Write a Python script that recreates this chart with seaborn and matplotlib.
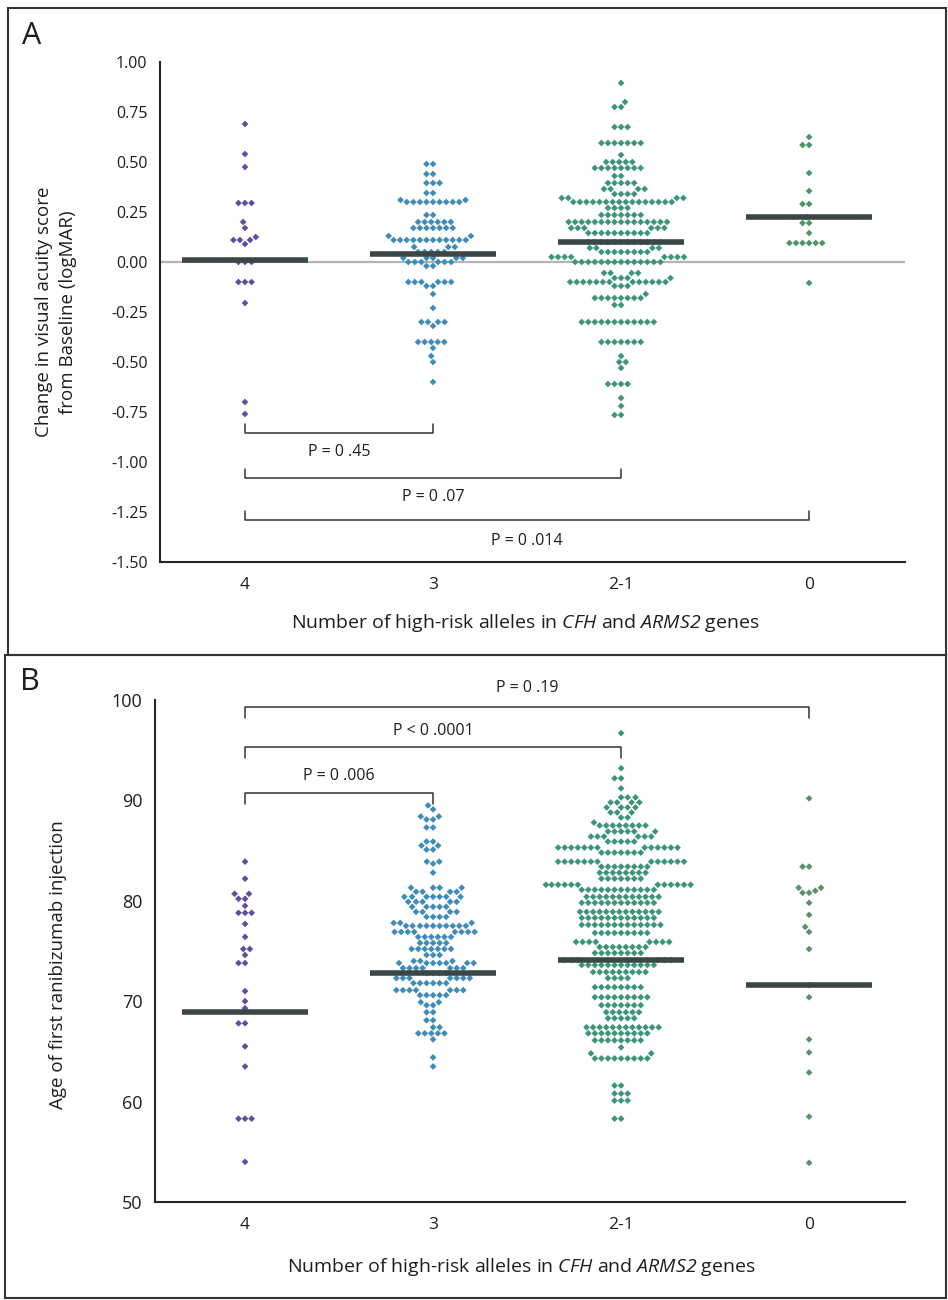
import numpy as np
import pandas as pd
import matplotlib
matplotlib.use("Agg")
import matplotlib.pyplot as plt
import seaborn as sns
from matplotlib.patches import Rectangle
from matplotlib.markers import MarkerStyle
from matplotlib.transforms import Affine2D

# ---------------- data ----------------
groups = ["4", "3", "2-1", "0"]

# Panel A: change in visual acuity (logMAR), value levels and counts per level
a4_vals = [0.69, 0.54, 0.475, 0.295, 0.20, 0.17, 0.125, 0.11, 0.09, 0.0, -0.10, -0.205, -0.70, -0.76]
a4_cnts = [1, 1, 1, 3, 1, 1, 1, 3, 1, 3, 3, 1, 1, 1]
a3_vals = [0.49, 0.44, 0.395, 0.345, 0.31, 0.30, 0.235, 0.20, 0.17, 0.13, 0.11, 0.075, 0.05, 0.02, 0.0,
           -0.02, -0.10, -0.12, -0.16, -0.23, -0.30, -0.32, -0.40, -0.43, -0.47, -0.50, -0.60]
a3_cnts = [2, 2, 3, 2, 2, 9, 2, 6, 7, 2, 12, 3, 5, 5, 6,
           2, 6, 2, 1, 1, 4, 1, 5, 1, 1, 1, 1]
a21_vals = [0.895, 0.80, 0.775, 0.675, 0.595, 0.535, 0.50, 0.47, 0.43, 0.395, 0.365, 0.34, 0.32, 0.30,
            0.27, 0.235, 0.20, 0.17, 0.145, 0.10, 0.07, 0.05, 0.025, 0.0, -0.055, -0.08, -0.10, -0.12,
            -0.16, -0.18, -0.215, -0.30, -0.40, -0.47, -0.50, -0.53, -0.61, -0.68, -0.72, -0.765]
a21_cnts = [1, 1, 2, 3, 7, 1, 5, 8, 2, 5, 4, 4, 4, 16,
            4, 7, 16, 6, 10, 12, 4, 8, 8, 14, 4, 4, 13, 3,
            1, 8, 2, 12, 7, 1, 2, 1, 4, 1, 1, 2]
a0_vals = [0.625, 0.585, 0.445, 0.355, 0.29, 0.225, 0.195, 0.145, 0.095, -0.105]
a0_cnts = [1, 2, 1, 1, 2, 1, 2, 1, 6, 1]
medians_a = [0.01, 0.04, 0.10, 0.225]

# Panel B: age at first ranibizumab injection
b4_vals = [83.9, 82.2, 80.7, 80.2, 79.5, 78.8, 77.7, 76.4, 75.2, 74.6, 73.8, 71.0, 70.0, 69.3, 67.8,
           65.5, 63.5, 58.3, 54.0]
b4_cnts = [1, 1, 2, 2, 1, 3, 1, 1, 2, 1, 2, 1, 1, 1, 2,
           1, 1, 3, 1]
b3_vals = [89.5, 89.1, 88.4, 88.1, 87.3, 85.9, 85.5, 85.1, 83.9, 83.7, 82.8, 81.3, 80.9, 80.4, 79.9,
           79.4, 78.9, 78.4, 77.8, 77.5, 76.9, 76.4, 75.8, 75.2, 74.6, 74.0, 73.8, 73.3, 72.8, 72.3,
           71.8, 71.1, 70.6, 69.9, 69.6, 68.9, 68.1, 67.4, 66.8, 66.2, 64.4, 63.5]
b3_cnts = [1, 1, 2, 2, 2, 2, 2, 2, 2, 1, 1, 4, 4, 7, 5,
           5, 4, 4, 3, 10, 8, 6, 5, 7, 3, 3, 7, 7, 4, 7,
           6, 7, 5, 2, 2, 2, 2, 2, 5, 1, 1, 1]
b21_vals = [96.7, 93.2, 92.2, 91.2, 90.3, 89.8, 89.3, 88.8, 88.3, 87.8, 87.5, 86.9, 86.4, 85.9, 85.3,
            84.8, 83.9, 83.4, 82.8, 82.2, 81.6, 81.1, 80.4, 79.8, 78.9, 78.3, 77.6, 76.8, 75.9, 75.4,
            74.8, 74.1, 73.6, 72.9, 72.3, 71.4, 70.4, 69.6, 68.9, 68.3, 67.4, 66.8, 66.1, 65.4, 64.8,
            64.3, 61.6, 60.8, 60.1, 58.3]
b21_cnts = [1, 1, 2, 1, 3, 4, 4, 3, 2, 1, 8, 6, 6, 5, 13,
            7, 13, 8, 8, 7, 12, 12, 12, 12, 13, 12, 13, 9, 8, 8,
            8, 6, 12, 9, 4, 8, 9, 7, 6, 5, 12, 10, 8, 1, 2,
            9, 2, 3, 3, 2]
b0_vals = [90.2, 83.4, 81.3, 81.0, 80.8, 79.8, 78.6, 77.4, 76.9, 75.2, 71.6, 70.4, 66.2, 64.9, 62.9,
           58.5, 53.9]
b0_cnts = [1, 2, 2, 1, 2, 1, 1, 1, 1, 1, 1, 1, 1, 1, 1,
           1, 1]
medians_b = [68.9, 72.8, 74.1, 71.6]

# comparisons (group index pairs), p-value labels
pairs_a = [(0, 1), (0, 2), (0, 3)]
labels_a = ["P = 0 .45", "P = 0 .07", "P = 0 .014"]
pairs_b = [(0, 3), (0, 2), (0, 1)]
labels_b = ["P = 0 .19", "P < 0 .0001", "P = 0 .006"]

ylabel_a = "Change in visual acuity score\nfrom Baseline (logMAR)"
ylabel_b = "Age of first ranibizumab injection"
xlabel = r"Number of high-risk alleles in $\mathsf{CFH}$ and $\mathsf{ARMS2}$ genes"

# ---------------- styling ----------------
sns.set_theme(style="white")
plt.rcParams["font.family"] = ["Open Sans", "DejaVu Sans"]
plt.rcParams["mathtext.fontset"] = "custom"
plt.rcParams["mathtext.rm"] = "Open Sans"
plt.rcParams["mathtext.it"] = "Open Sans:italic"
plt.rcParams["mathtext.sf"] = "Open Sans:italic"

palette_a = {"4": "#5b4f9f", "3": "#3f8cb8", "2-1": "#3c9676", "0": "#4f9466"}
palette_b = {"4": "#5b4f9f", "3": "#3f8cb8", "2-1": "#3c9676", "0": "#5a9168"}
line_col = "#3a4746"
text_col = "#1e1e1e"
dot_marker = MarkerStyle("D", transform=Affine2D().scale(0.76))


def make_df(vals_list, cnts_list):
    rows = []
    for g, v, c in zip(groups, vals_list, cnts_list):
        for val in np.repeat(v, c):
            rows.append((g, float(val)))
    return pd.DataFrame(rows, columns=["group", "value"])


dfA = make_df([a4_vals, a3_vals, a21_vals, a0_vals], [a4_cnts, a3_cnts, a21_cnts, a0_cnts])
dfB = make_df([b4_vals, b3_vals, b21_vals, b0_vals], [b4_cnts, b3_cnts, b21_cnts, b0_cnts])

W, H = 948, 1300
fig = plt.figure(figsize=(W / 100, H / 100), dpi=100)
fig.patch.set_facecolor("white")

axA = fig.add_axes([160 / W, 1 - 562 / H, 745 / W, 500 / H])
axB = fig.add_axes([155 / W, 1 - 1202 / H, 750 / W, 502 / H])


def draw_panel(ax, df, pal, medians, ylim, yticks, yticklabels, ytick_size):
    sns.swarmplot(data=df, x="group", y="value", hue="group", order=groups, hue_order=groups,
                  palette=pal, marker=dot_marker, size=4.5, linewidth=0,
                  legend=False, ax=ax, zorder=3, warn_thresh=1.0)
    pos = np.arange(len(groups))
    ax.hlines(medians, pos - 0.335, pos + 0.335, color=line_col, lw=4.0, zorder=6)
    ax.set_ylim(*ylim)
    ax.set_yticks(yticks)
    ax.set_yticklabels(yticklabels)
    sns.despine(ax=ax)
    for s in ["left", "bottom"]:
        ax.spines[s].set_color("#262626")
        ax.spines[s].set_linewidth(1.5)
    ax.tick_params(axis="both", direction="out", length=4, width=1, color="#666666",
                   labelcolor=text_col, pad=5)
    ax.tick_params(axis="y", labelsize=ytick_size)
    ax.tick_params(axis="x", pad=7, labelsize=12.5)
    ax.set_xlabel(xlabel, fontsize=14, color=text_col)
    ax.set_facecolor("white")


draw_panel(axA, dfA, palette_a, medians_a, (-1.5, 1.0),
           np.arange(-1.5, 1.01, 0.25),
           ["-1.50", "-1.25", "-1.00", "-0.75", "-0.50", "-0.25", "0.00", "0.25", "0.50", "0.75", "1.00"],
           11.5)
axA.axhline(0, color="#b4b4b4", lw=1.6, zorder=2)
axA.set_xlim(-0.452, 3.51)

draw_panel(axB, dfB, palette_b, medians_b, (50, 100),
           [50, 60, 70, 80, 90, 100], ["50", "60", "70", "80", "90", "100"], 13)
axB.set_xlim(-0.479, 3.51)

axA.set_ylabel(ylabel_a, fontsize=13.5, color=text_col, linespacing=1.4)
axA.yaxis.set_label_coords(-0.112, 0.5)
axA.xaxis.set_label_coords(0.49, -0.1)
axB.set_ylabel(ylabel_b, fontsize=13.5, color=text_col)
axB.yaxis.set_label_coords(-0.117, 0.472)
axB.xaxis.set_label_coords(0.489, -0.108)

# brackets panel A (ticks pointing up)
br_y_a = [-0.855, -1.08, -1.29]
br_h_a = 0.045
txt_y_a = [-0.95, -1.175, -1.395]
for (i, j), yv, ty, lab in zip(pairs_a, br_y_a, txt_y_a, labels_a):
    axA.plot([i, i, j, j], [yv + br_h_a, yv, yv, yv + br_h_a], color="#333333", lw=1.1, zorder=4)
    axA.text((i + j) / 2, ty, lab, ha="center", va="center", fontsize=11.5, color=text_col)

# brackets panel B (ticks pointing down)
br_y_b = [99.3, 95.3, 90.7]
br_h_b = 1.1
txt_y_b = [101.2, 96.9, 92.4]
for (i, j), yv, ty, lab in zip(pairs_b, br_y_b, txt_y_b, labels_b):
    axB.plot([i, i, j, j], [yv - br_h_b, yv, yv, yv - br_h_b], color="#333333", lw=1.1, zorder=4,
             clip_on=False)
    axB.text((i + j) / 2, ty, lab, ha="center", va="center", fontsize=11.5, color=text_col,
             clip_on=False)

# panel frames and letters
fig.add_artist(Rectangle((8 / W, 1 - 655 / H), (946 - 8) / W, (655 - 8) / H, transform=fig.transFigure,
                         fill=False, edgecolor="#333333", lw=1.5))
fig.add_artist(Rectangle((5 / W, 1 - 1298 / H), (946 - 5) / W, (1298 - 655) / H, transform=fig.transFigure,
                         fill=False, edgecolor="#333333", lw=1.5))
fig.text(22 / W, 1 - 36 / H, "A", fontsize=22, va="center", ha="left", color=text_col)
fig.text(20 / W, 1 - 682 / H, "B", fontsize=22, va="center", ha="left", color=text_col)

fig.savefig("out.png", dpi=100, facecolor="white")
